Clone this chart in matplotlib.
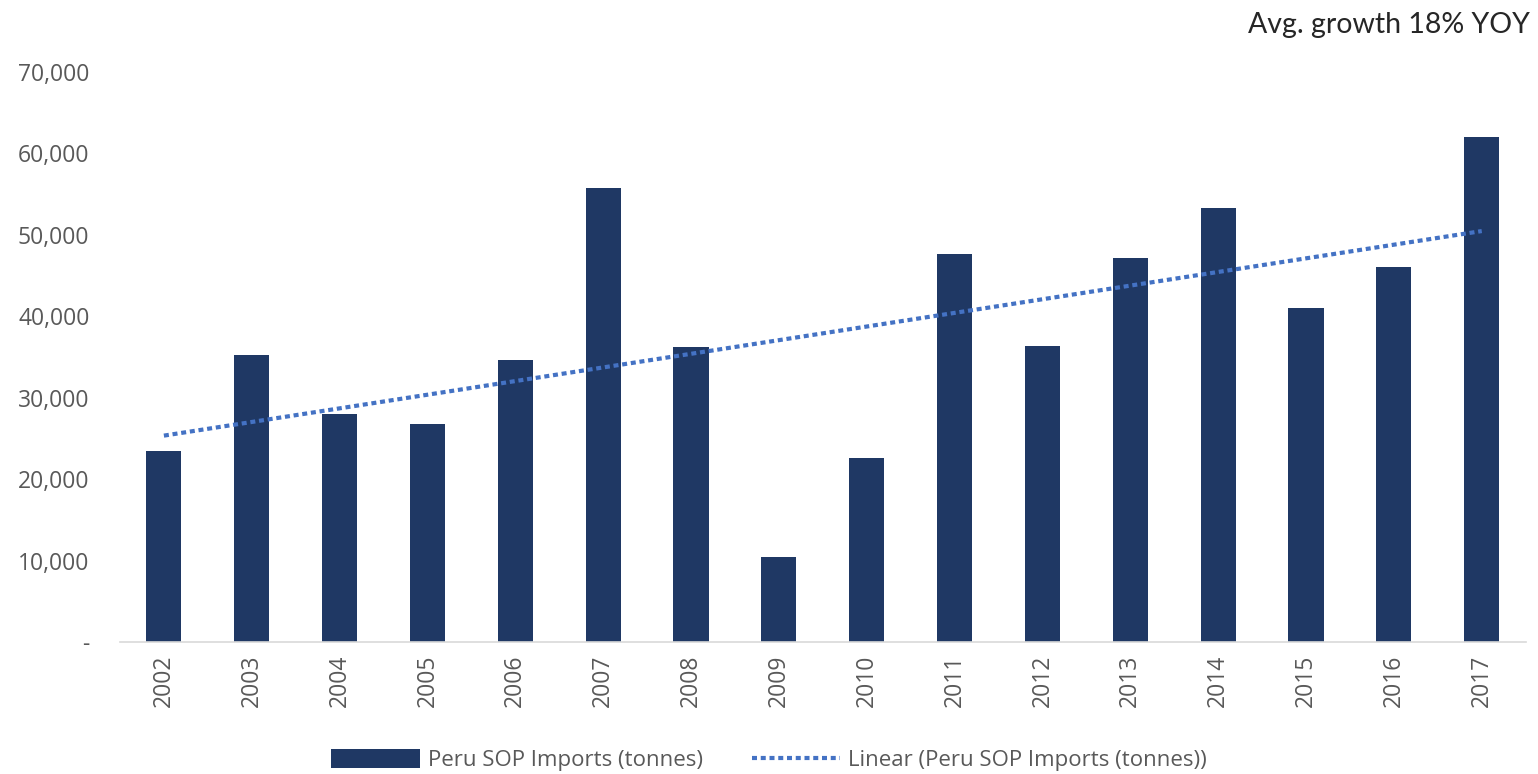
import matplotlib.pyplot as plt
import numpy as np
from matplotlib.ticker import FuncFormatter

# Peru SOP imports per year (tonnes)
years = ['2002', '2003', '2004', '2005', '2006', '2007', '2008', '2009',
         '2010', '2011', '2012', '2013', '2014', '2015', '2016', '2017']
imports = [23500, 35200, 28000, 26750, 34600, 55700, 36200, 10400,
           22600, 47600, 36400, 47200, 53250, 41000, 46100, 62000]

bar_color = '#1F3864'
trend_color = '#4472C4'
label_gray = '#595959'

plt.rcParams['font.family'] = ['Open Sans', 'DejaVu Sans']

fig = plt.figure(figsize=(15.38, 7.74), dpi=100)
ax = fig.add_axes([0.078, 0.1705, 0.914, 0.7365])

x = np.arange(len(years))
bars = ax.bar(x, imports, width=0.4, color=bar_color,
              label='Peru SOP Imports (tonnes)')

# linear trend line fitted to the yearly values
slope, intercept = np.polyfit(x, imports, 1)
trend, = ax.plot(x, slope * x + intercept, color=trend_color, linewidth=3,
                 linestyle=(0, (1.2, 0.9)),
                 label='Linear (Peru SOP Imports (tonnes))')

ax.set_xlim(-0.5, len(years) - 0.5)
ax.set_ylim(0, 70000)
ax.set_yticks(range(0, 70001, 10000))
ax.yaxis.set_major_formatter(FuncFormatter(lambda v, p: '-' if v == 0 else f'{v:,.0f}'))
ax.set_xticks(x)
ax.set_xticklabels(years, rotation=90)

ax.tick_params(axis='y', length=0, pad=22, labelsize=16.5, labelcolor=label_gray)
ax.tick_params(axis='x', length=0, pad=9, labelsize=16.5, labelcolor=label_gray)

for side in ['top', 'right', 'left']:
    ax.spines[side].set_visible(False)
ax.spines['bottom'].set_color('#D9D9D9')
ax.spines['bottom'].set_linewidth(1.2)

fig.text(0.995, 0.968, 'Avg. growth 18% YOY', ha='right', va='center',
         fontsize=20.5, color='#262626', family=['Lato', 'DejaVu Sans'])

leg = fig.legend(handles=[bars, trend], loc='center', bbox_to_anchor=(0.5, 0.018),
                 ncol=2, frameon=False, fontsize=16, handlelength=4.0,
                 handleheight=0.9, columnspacing=2.2, handletextpad=0.35)
for t in leg.get_texts():
    t.set_color(label_gray)

fig.savefig('out.png', dpi=100)
